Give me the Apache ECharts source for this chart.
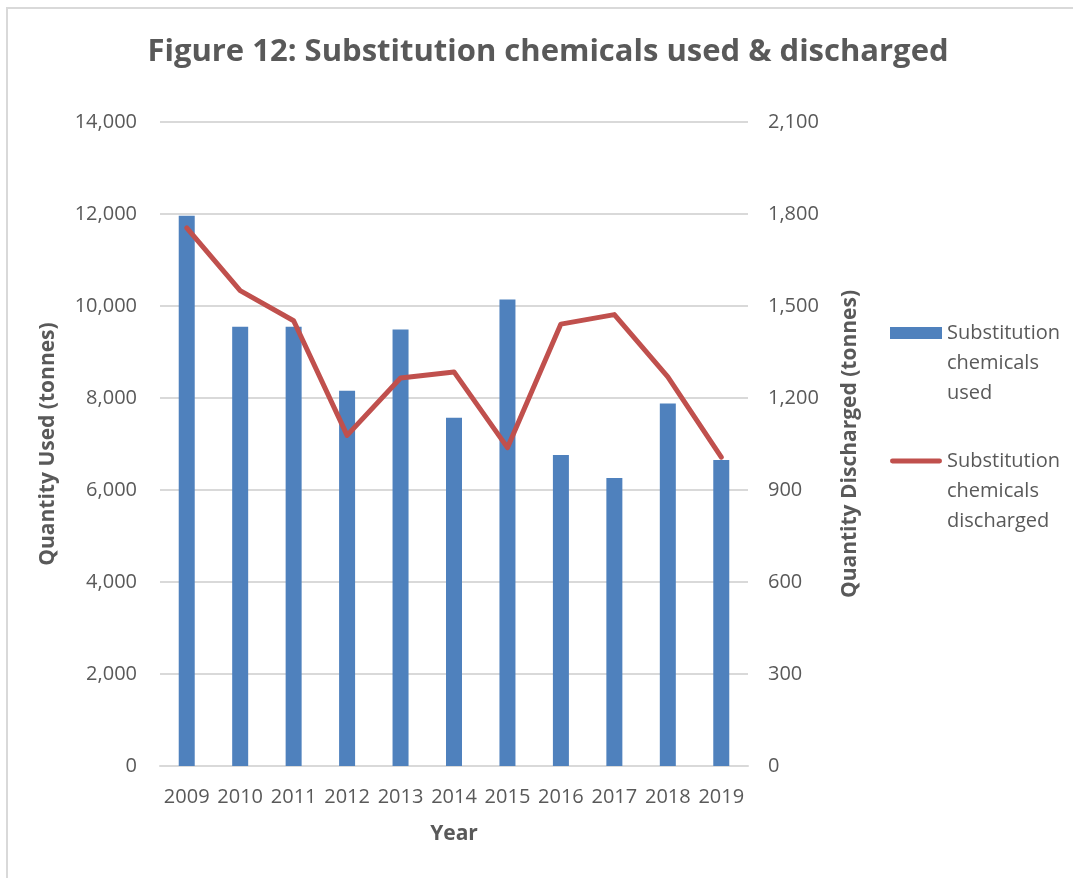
<!DOCTYPE html>
<html>
<head>
<meta charset="utf-8">
<script src="https://cdn.jsdelivr.net/npm/echarts@6/dist/echarts.min.js"></script>
<style>
  html, body { margin: 0; padding: 0; background: #fff; }
  #chart { width: 1073px; height: 878px; }
</style>
</head>
<body>
<div id="chart"></div>
<script>
// Years on the category axis
const years = ['2009', '2010', '2011', '2012', '2013', '2014', '2015', '2016', '2017', '2018', '2019'];
// Substitution chemicals used (tonnes) - left axis
const usedTonnes = [11960, 9550, 9550, 8160, 9490, 7570, 10140, 6760, 6260, 7880, 6650];
// Substitution chemicals discharged (tonnes) - right axis
const dischargedTonnes = [1755, 1550, 1452, 1078, 1265, 1285, 1038, 1441, 1472, 1269, 1007];

const usedName = 'Substitution chemicals used';
const dischargedName = 'Substitution chemicals discharged';
// Legend text wrapped over three lines; two leading blank lines keep the
// first line level with the legend marker.
const legendLines = {
  [usedName]: '\n\nSubstitution\nchemicals\nused',
  [dischargedName]: '\n\nSubstitution\nchemicals\ndischarged'
};

const FONT = 'Open Sans, sans-serif';
const GREY = '#595959';
// pill-shaped marker for the line series in the legend
const LINE_ICON = 'path://M2.5,0 L51.5,0 A2.5,2.5 0 0 1 51.5,5 L2.5,5 A2.5,2.5 0 0 1 2.5,0 Z';

const chart = echarts.init(document.getElementById('chart'), null, { renderer: 'canvas' });

chart.setOption({
  backgroundColor: '#ffffff',
  animation: false,
  graphic: [{
    type: 'rect',
    shape: { x: 7, y: 8, width: 1200, height: 1000 },
    style: { fill: 'none', stroke: '#d9d9d9', lineWidth: 2 },
    silent: true
  }],
  title: {
    text: 'Figure 12: Substitution chemicals used & discharged',
    left: 543,
    textAlign: 'center',
    top: 32,
    textStyle: { fontFamily: FONT, fontWeight: 'bold', fontSize: 31, color: GREY }
  },
  legend: {
    orient: 'vertical',
    left: 885,
    top: 253,
    itemWidth: 52,
    itemHeight: 12,
    itemGap: -22,
    formatter: name => legendLines[name],
    textStyle: { fontFamily: FONT, fontSize: 20, color: GREY, lineHeight: 30 },
    data: [
      { name: usedName, icon: 'rect' },
      { name: dischargedName, icon: LINE_ICON }
    ]
  },
  grid: { left: 160, right: 325, top: 122, bottom: 112, containLabel: false },
  xAxis: {
    type: 'category',
    data: years,
    name: 'Year',
    nameLocation: 'middle',
    nameGap: 58,
    nameTextStyle: { fontFamily: FONT, fontWeight: 'bold', fontSize: 21, color: GREY },
    axisLine: { lineStyle: { color: '#d9d9d9', width: 2 } },
    axisTick: { show: false },
    axisLabel: { fontFamily: FONT, fontSize: 20, color: GREY, margin: 21, interval: 0 }
  },
  yAxis: [{
    type: 'value',
    min: 0, max: 14000, interval: 2000,
    name: 'Quantity Used (tonnes)',
    nameLocation: 'middle',
    nameRotate: 90,
    nameGap: 101,
    nameTextStyle: { fontFamily: FONT, fontWeight: 'bold', fontSize: 21, color: GREY },
    axisLine: { show: false },
    axisTick: { show: false },
    axisLabel: {
      fontFamily: FONT, fontSize: 20, color: GREY, margin: 23,
      formatter: v => v.toLocaleString('en-US')
    },
    splitLine: { lineStyle: { color: '#d9d9d9', width: 2 } }
  }, {
    type: 'value',
    min: 0, max: 2100, interval: 300,
    name: 'Quantity Discharged (tonnes)',
    nameLocation: 'middle',
    nameRotate: 90,
    nameGap: 92,
    nameTextStyle: { fontFamily: FONT, fontWeight: 'bold', fontSize: 21, color: GREY },
    axisLine: { show: false },
    axisTick: { show: false },
    axisLabel: {
      fontFamily: FONT, fontSize: 20, color: GREY, margin: 20,
      formatter: v => v.toLocaleString('en-US')
    },
    splitLine: { show: false }
  }],
  series: [{
    name: usedName,
    type: 'bar',
    yAxisIndex: 0,
    data: usedTonnes,
    barWidth: 16,
    itemStyle: { color: '#4F81BD' }
  }, {
    name: dischargedName,
    type: 'line',
    yAxisIndex: 1,
    data: dischargedTonnes,
    symbol: 'none',
    lineStyle: { color: '#C0504D', width: 5, cap: 'round', join: 'round' },
    itemStyle: { color: '#C0504D' }
  }]
});
</script>
</body>
</html>
